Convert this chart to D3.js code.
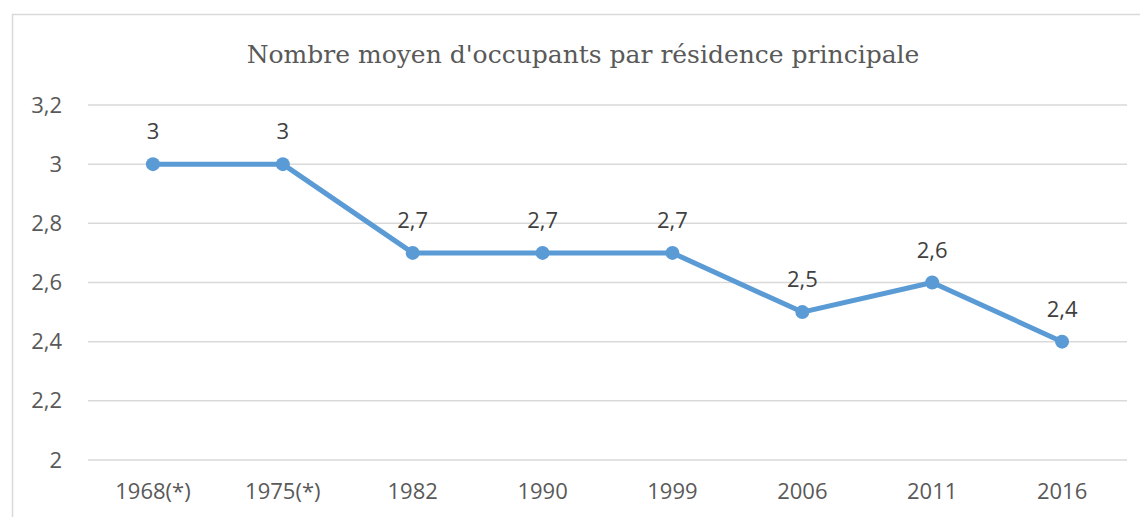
<!DOCTYPE html>
<html lang="fr">
<head>
  <meta charset="utf-8">
  <title>Nombre moyen d'occupants</title>
  <style>
    body { margin: 0; background: #fff; }
    .axis text { font: 22px "Open Sans", sans-serif; fill: #595959; }
    .label { font: 22px "Open Sans", sans-serif; fill: #404040; }
    .title { font: 25px "DejaVu Serif", serif; fill: #595959; }
  </style>
</head>
<body>
<div id="chart"></div>
<script src="https://d3js.org/d3.v7.min.js"></script>
<script>
  // data
  let years = ["1968(*)", "1975(*)", "1982", "1990", "1999", "2006", "2011", "2016"];
  let occupants = [3, 3, 2.7, 2.7, 2.7, 2.5, 2.6, 2.4];
  let yTicks = [2, 2.2, 2.4, 2.6, 2.8, 3, 3.2];

  let W = 1140, H = 517;
  let plotL = 88, plotR = 1127, plotT = 105, plotB = 460;

  let svg = d3.select("#chart").append("svg")
    .attr("width", W)
    .attr("height", H);

  // chart border
  svg.append("rect")
    .attr("x", 12.5).attr("y", 14.5)
    .attr("width", 1140).attr("height", 520)
    .attr("fill", "none")
    .attr("stroke", "#d9d9d9")
    .attr("stroke-width", 1.5);

  svg.append("text")
    .attr("class", "title")
    .attr("x", 583).attr("y", 63)
    .attr("text-anchor", "middle")
    .text("Nombre moyen d'occupants par résidence principale");

  let x = d3.scaleBand().domain(years).range([plotL, plotR]).padding(0);
  let y = d3.scaleLinear().domain([2, 3.2]).range([plotB, plotT]);
  let fmt = (d) => String(d3.format("~g")(d)).replace(".", ",");

  // gridlines
  svg.append("g")
    .selectAll("line")
    .data(yTicks)
    .enter()
    .append("line")
    .attr("x1", plotL).attr("x2", plotR)
    .attr("y1", (d) => y(d)).attr("y2", (d) => y(d))
    .attr("stroke", "#d9d9d9")
    .attr("stroke-width", 1.5);

  let yAxis = svg.append("g")
    .attr("class", "axis")
    .attr("transform", "translate(" + plotL + ",0)")
    .call(d3.axisLeft(y).tickValues(yTicks).tickFormat(fmt).tickSize(0).tickPadding(26));
  yAxis.select(".domain").remove();

  let xAxis = svg.append("g")
    .attr("class", "axis")
    .attr("transform", "translate(0," + plotB + ")")
    .call(d3.axisBottom(x).tickSize(0).tickPadding(23));
  xAxis.select(".domain").remove();

  let cx = (d, i) => x(years[i]) + x.bandwidth() / 2;

  let line = d3.line()
    .x((d, i) => cx(d, i))
    .y((d) => y(d));

  svg.append("path")
    .datum(occupants)
    .attr("d", line)
    .attr("fill", "none")
    .attr("stroke", "#5b9bd5")
    .attr("stroke-width", 5)
    .attr("stroke-linejoin", "round");

  svg.append("g")
    .selectAll("circle")
    .data(occupants)
    .enter()
    .append("circle")
    .attr("cx", cx)
    .attr("cy", (d) => y(d))
    .attr("r", 7)
    .attr("fill", "#5b9bd5");

  svg.append("g")
    .selectAll("text")
    .data(occupants)
    .enter()
    .append("text")
    .attr("class", "label")
    .attr("x", cx)
    .attr("y", (d) => y(d) - 25)
    .attr("text-anchor", "middle")
    .text(fmt);
</script>
</body>
</html>
